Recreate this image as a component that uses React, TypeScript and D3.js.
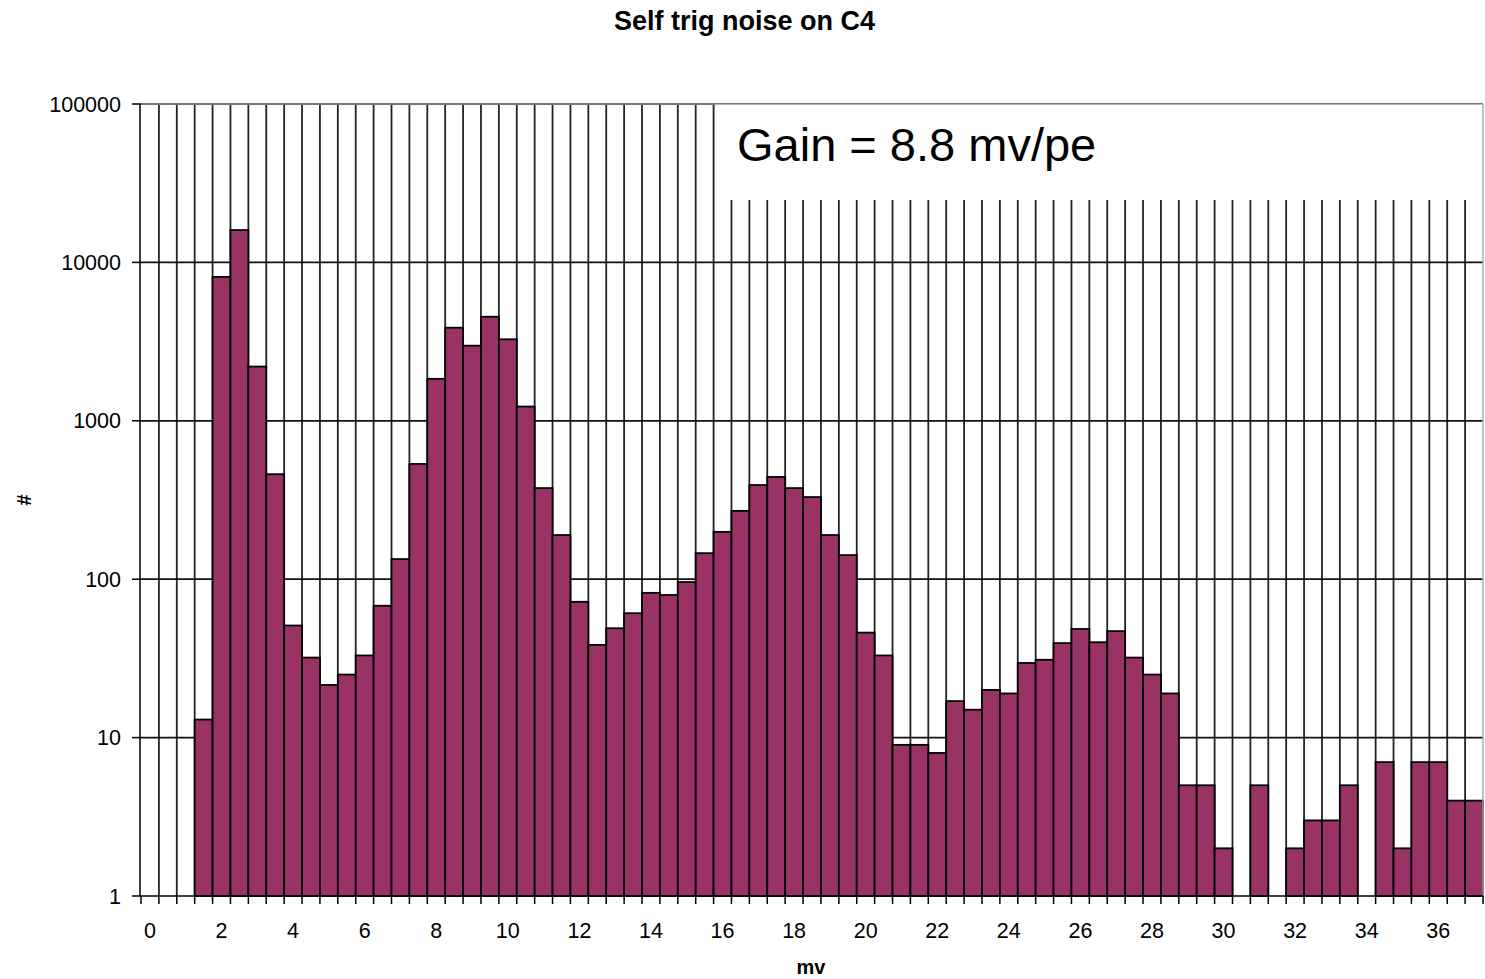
import React from "react";
import * as d3 from "d3";

const categories: number[] = Array.from({ length: 75 }, (_, i) => i / 2);
// counts per 0.5 mV bin (0 = empty bin)
const counts: number[] = [
  0, 0, 0, 13, 8100, 16000, 2200, 460, 51, 32,
  21.5, 25, 33, 68, 134, 534, 1840, 3870, 2980, 4540,
  3270, 1230, 376, 190, 72, 38.5, 49, 61, 82, 79.5,
  96, 146, 199, 270, 393, 442, 376, 330, 190, 142,
  46, 33, 9, 9, 8, 17, 15, 20, 19, 29.6,
  31, 39.5, 48.5, 40, 47, 32, 25, 19, 5, 5,
  2, 0, 5, 0, 2, 3, 3, 5, 0, 7,
  2, 7, 7, 4, 4,
];
const yTicks: number[] = [1, 10, 100, 1000, 10000, 100000];
const xLabels: number[] = d3.range(0, 37, 2);

const W = 1485;
const H = 979;
const left = 141;
const right = 1483;
const top = 104;
const bottom = 896;

export default function App() {
  const x = d3
    .scaleBand<string>()
    .domain(categories.map(String))
    .range([left, right])
    .padding(0);
  const y = d3.scaleLog().domain([1, 100000]).range([bottom, top]);
  const bw = x.bandwidth();
  const boundaries = d3.range(categories.length + 1).map((i) => left + i * bw);
  const font = "Arial, 'Liberation Sans', sans-serif";

  return (
    <div style={{ position: "absolute", left: 0, top: 0 }}>
      <svg width={W} height={H} style={{ display: "block", background: "#fff" }}>
        <rect x={0} y={0} width={W} height={H} fill="#fff" />
        {/* vertical gridlines */}
        {boundaries.slice(1, -1).map((bx, i) => (
          <line key={"vg" + i} x1={bx} x2={bx} y1={top} y2={bottom} stroke="#222" strokeWidth={1.8} />
        ))}
        {/* horizontal gridlines */}
        {yTicks.slice(1).map((t) => (
          <line key={"hg" + t} x1={left} x2={right} y1={y(t)} y2={y(t)} stroke="#111" strokeWidth={1.8} />
        ))}
        {/* text box */}
        <rect x={715} y={top} width={right - 715} height={96} fill="#fff" />
        <text x={737} y={161} fontFamily={font} fontSize={47} fill="#000">
          Gain = 8.8 mv/pe
        </text>
        {/* bars */}
        {categories.map((c, i) =>
          counts[i] > 0 ? (
            <rect
              key={"b" + i}
              x={x(String(c))!}
              y={y(counts[i])}
              width={bw}
              height={bottom - y(counts[i])}
              fill="#993366"
              stroke="#000"
              strokeWidth={1.8}
            />
          ) : null
        )}
        {/* plot border top/right */}
        <line x1={left} x2={right} y1={top} y2={top} stroke="#999" strokeWidth={1.5} />
        <line x1={right} x2={right} y1={top} y2={bottom} stroke="#aaa" strokeWidth={1.5} />
        {/* axes */}
        <line x1={left - 1} x2={left - 1} y1={top} y2={bottom} stroke="#000" strokeWidth={1.5} />
        <line x1={left} x2={right} y1={bottom} y2={bottom} stroke="#000" strokeWidth={1.5} />
        {yTicks.map((t) => (
          <g key={"yt" + t}>
            <line x1={132} x2={left} y1={y(t)} y2={y(t)} stroke="#000" strokeWidth={1.5} />
            <text x={121} y={y(t) + 7.5} textAnchor="end" fontFamily={font} fontSize={21.5} fill="#000">
              {t}
            </text>
          </g>
        ))}
        {boundaries.map((bx, i) => (
          <line key={"xt" + i} x1={bx} x2={bx} y1={bottom} y2={bottom + 8} stroke="#000" strokeWidth={1.5} />
        ))}
        {xLabels.map((v) => (
          <text
            key={"xl" + v}
            x={x(String(v))! + bw / 2}
            y={938}
            textAnchor="middle"
            fontFamily={font}
            fontSize={21.5}
            fill="#000"
          >
            {v}
          </text>
        ))}
        {/* titles */}
        <text x={744.5} y={30} textAnchor="middle" fontFamily={font} fontWeight="bold" fontSize={27} fill="#000">
          Self trig noise on C4
        </text>
        <text x={811} y={974} textAnchor="middle" fontFamily={font} fontWeight="bold" fontSize={20} fill="#000">
          mv
        </text>
        <text
          transform="translate(31,500) rotate(-90)"
          textAnchor="middle"
          fontFamily={font}
          fontWeight="bold"
          fontSize={20}
          fill="#000"
        >
          #
        </text>
      </svg>
    </div>
  );
}
